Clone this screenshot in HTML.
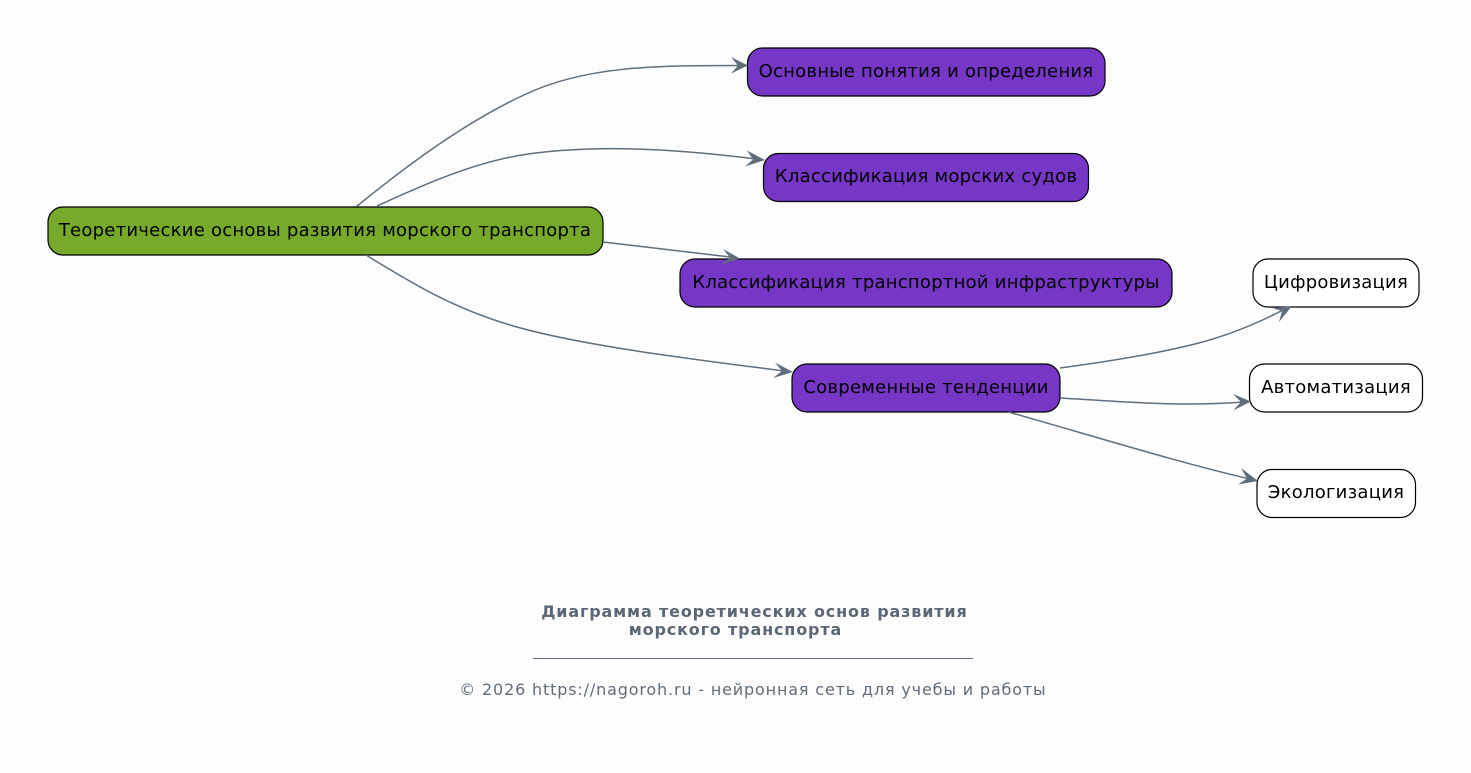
<!DOCTYPE html>
<html lang="ru">
<head>
<meta charset="utf-8">
<style>
html,body{margin:0;padding:0;background:#fdfdfd;width:1471px;height:773px;overflow:hidden}
svg{display:block}
text{font-family:"DejaVu Sans",sans-serif}
.n{font-size:18px;letter-spacing:.245px;fill:#000;text-anchor:middle}
.e{fill:none;stroke:#5f6e7c;stroke-width:1.5}
.a{fill:#5f6e7c}
.b{stroke:#000;stroke-width:1.2}
.t{font-size:16px;letter-spacing:.84px;text-anchor:middle}
</style>
</head>
<body>
<svg width="1471" height="773" viewBox="0 0 1471 773" xmlns="http://www.w3.org/2000/svg">
<rect width="1471" height="773" fill="#fdfdfd"/>
<rect class="b" x="48" y="207" width="555" height="48" rx="15" fill="#77a92a"/>
<text class="n" x="325" y="236">Теоретические основы развития морского транспорта</text>
<rect class="b" x="747.500" y="48" width="357.500" height="48" rx="15" fill="#7636c6"/>
<text class="n" x="926" y="77">Основные понятия и определения</text>
<rect class="b" x="763.500" y="153.500" width="325" height="48" rx="15" fill="#7636c6"/>
<text class="n" x="926" y="182">Классификация морских судов</text>
<rect class="b" x="680" y="259" width="492" height="48" rx="15" fill="#7636c6"/>
<text class="n" x="926" y="288">Классификация транспортной инфраструктуры</text>
<rect class="b" x="792" y="364" width="268" height="48" rx="15" fill="#7636c6"/>
<text class="n" x="926" y="393">Современные тенденции</text>
<rect class="b" x="1253" y="259" width="166" height="48" rx="15" fill="#fff"/>
<text class="n" x="1336" y="288">Цифровизация</text>
<rect class="b" x="1249.500" y="364" width="173" height="48" rx="15" fill="#fff"/>
<text class="n" x="1336" y="393">Автоматизация</text>
<rect class="b" x="1257" y="469.500" width="158.500" height="48" rx="15" fill="#fff"/>
<text class="n" x="1336" y="498">Экологизация</text>
<path class="e" d="M356.500,206.500 C405,167 465,122 525,94.500 C585,66 655,65.500 740,65.500"/>
<path class="a" d="M748,65.500 L731,57 L738,65.500 L731,73.500 Z"/>
<path class="e" d="M377,206 C425,184 475,162 525,154.500 C590,145 665,147.500 756,159"/>
<path class="a" d="M765,160 L747,150.500 L753,159.500 L745,166.500 Z"/>
<path class="e" d="M603,242 L730,257"/>
<path class="a" d="M740,258.500 L723,249 L730,257.500 L721,264.500 Z"/>
<path class="e" d="M366,255 C410,282 450,307 510,325 C580,346 700,360 784,371"/>
<path class="a" d="M793,372 L775,362.500 L782,371 L773,378 Z"/>
<path class="e" d="M1060,368 C1105,362 1155,354 1195,344 C1230,335 1260,322 1283,310"/>
<path class="a" d="M1292,306 L1272,308 L1282,311 L1279,322 Z"/>
<path class="e" d="M1060,398 C1110,401 1150,404 1190,404 C1215,404 1230,403 1244,402"/>
<path class="a" d="M1251,401.500 L1233,394 L1241,402 L1233,410.500 Z"/>
<path class="e" d="M1008.500,412 C1090,435 1180,463 1250,479"/>
<path class="a" d="M1258,481 L1241,468 L1247,478.500 L1238,484.500 Z"/>
<text class="t" x="754.400" y="617" font-weight="700" fill="#5a6776">Диаграмма теоретических основ развития</text>
<text class="t" x="735.400" y="635" font-weight="700" fill="#5a6776">морского транспорта</text>
<line x1="533" y1="658.500" x2="973" y2="658.500" stroke="#5a6776" stroke-width="1"/>
<text class="t" x="752.900" y="695" fill="#5f6c7a">© 2026 https://nagoroh.ru - нейронная сеть для учебы и работы</text>
</svg>
</body>
</html>
